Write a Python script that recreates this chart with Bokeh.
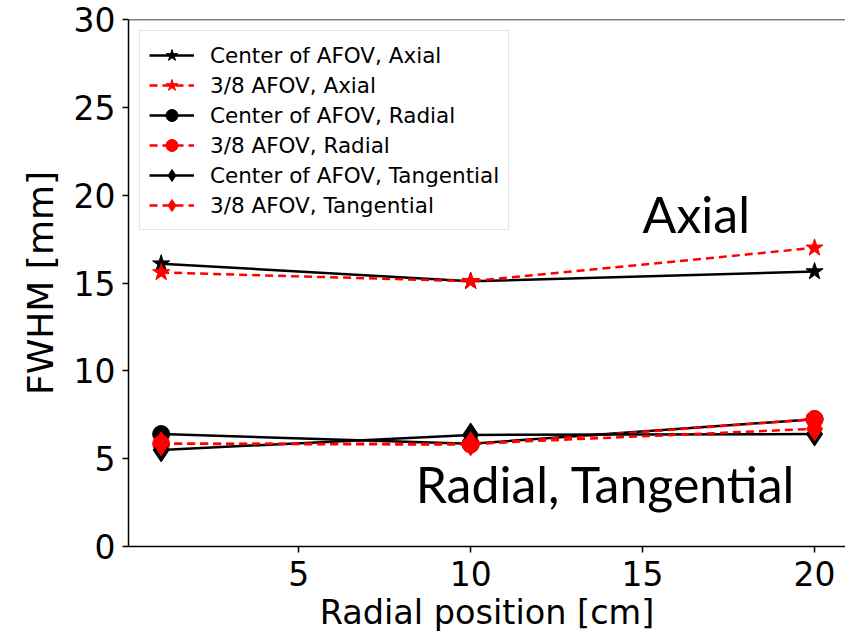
from bokeh.plotting import figure
from bokeh.models import Legend, LegendItem, Label, FixedTicker, Span
from bokeh.embed import file_html
from bokeh.resources import INLINE

# ---- data ----
radial_position = [1, 10, 20]
center_axial = [16.1, 15.1, 15.65]
afov38_axial = [15.6, 15.1, 17.0]
center_radial = [6.4, 5.85, 7.25]
afov38_radial = [5.85, 5.8, 7.25]
center_tangential = [5.5, 6.35, 6.4]
afov38_tangential = [5.85, 5.85, 6.7]

series_labels = [
    "Center of AFOV, Axial",
    "3/8 AFOV, Axial",
    "Center of AFOV, Radial",
    "3/8 AFOV, Radial",
    "Center of AFOV, Tangential",
    "3/8 AFOV, Tangential",
]
x_ticks = [5, 10, 15, 20]
y_ticks = [0, 5, 10, 15, 20, 25, 30]
x_label = "Radial position [cm]"
y_label = "FWHM [mm]"
note_axial = ("Axial", 15.0, 18.9)
note_rt = ("Radial, Tangential", 8.4, 3.53)

p = figure(width=845, height=636, x_range=(0.05, 20.9), y_range=(0, 30),
           output_backend="svg", toolbar_location=None,
           min_border_left=128, min_border_right=0, min_border_top=19,
           min_border_bottom=90, background_fill_color="white",
           border_fill_color="white")
p.grid.visible = False
p.outline_line_color = None
p.add_layout(Span(location=30, dimension="width", line_color="black", line_width=1.5))

styles = [
    (center_axial, "black", "solid", "star", 18),
    (afov38_axial, "red", "8 5", "star", 18),
    (center_radial, "black", "solid", "circle", 17),
    (afov38_radial, "red", "8 5", "circle", 17),
    (center_tangential, "black", "solid", "diamond", 24),
    (afov38_tangential, "red", "8 5", "diamond", 24),
]

items = []
for (ys, color, dash, marker, size), lab in zip(styles, series_labels):
    rl = p.line(radial_position, ys, line_color=color, line_width=2.5, line_dash=dash)
    rs = p.scatter(radial_position, ys, marker=marker, size=size,
                   fill_color=color, line_color=color, line_width=1)
    items.append(LegendItem(label=lab, renderers=[rl, rs]))

legend = Legend(items=items, location="top_left", margin=11, padding=9,
                spacing=0, glyph_width=45, glyph_height=30, label_height=30,
                label_standoff=16, label_text_font="DejaVu Sans",
                label_text_font_size="21.5px", label_text_color="black",
                border_line_color="#cccccc", border_line_width=1.2,
                background_fill_alpha=0.8)
p.add_layout(legend)

for txt, xx, yy in (note_axial, note_rt):
    p.add_layout(Label(x=xx, y=yy, text=txt, text_font="Lato",
                       text_font_size="50px", text_color="black",
                       text_align="left", text_baseline="alphabetic"))

p.xaxis.ticker = FixedTicker(ticks=x_ticks)
p.yaxis.ticker = FixedTicker(ticks=y_ticks)
p.xaxis.axis_label = x_label
p.yaxis.axis_label = y_label
for ax in (p.xaxis, p.yaxis):
    ax.major_label_text_font = "DejaVu Sans"
    ax.major_label_text_font_size = "33px"
    ax.major_label_text_color = "black"
    ax.axis_label_text_font = "DejaVu Sans"
    ax.axis_label_text_font_style = "normal"
    ax.axis_label_text_color = "black"
    ax.axis_line_color = "black"
    ax.axis_line_width = 1.5
    ax.major_tick_line_color = "black"
    ax.major_tick_line_width = 1.5
    ax.major_tick_out = 6
    ax.major_tick_in = 0
    ax.minor_tick_line_color = None
p.xaxis.axis_label_text_font_size = "33.5px"
p.yaxis.axis_label_text_font_size = "36px"
p.xaxis.major_label_standoff = 8
p.yaxis.major_label_standoff = 7
p.xaxis.axis_label_standoff = 4
p.yaxis.axis_label_standoff = 10

open("out.html", "w").write(file_html(p, INLINE))
